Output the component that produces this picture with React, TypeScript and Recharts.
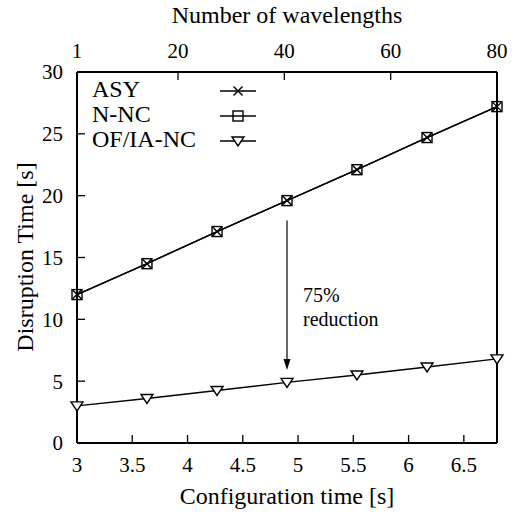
import React from 'react';
import { Line, LineChart, ReferenceLine, XAxis, YAxis } from 'recharts';

// configuration time [s] for each measured point
const configTime = [3, 3.633, 4.267, 4.9, 5.533, 6.167, 6.8];
// number of wavelengths for the same points (top axis)
const wavelengths = [1, 14, 27, 40, 54, 67, 80];
// disruption time [s]
const asyValues = [12.0, 14.5, 17.1, 19.6, 22.1, 24.7, 27.2];
const nncValues = [12.0, 14.5, 17.1, 19.6, 22.1, 24.7, 27.2];
const ofiaValues = [3.0, 3.6, 4.25, 4.9, 5.5, 6.15, 6.8];

const xTicks = [3, 3.5, 4, 4.5, 5, 5.5, 6, 6.5];
const topTicks = [1, 20, 40, 60, 80];
const yTicks = [0, 5, 10, 15, 20, 25, 30];

const arrowFrom = { x: 4.9, y: 18.0 };
const arrowTo = { x: 4.9, y: 5.9 };

const data = configTime.map((t, i) => ({
  t,
  wl: wavelengths[i],
  asy: asyValues[i],
  nnc: nncValues[i],
  ofia: ofiaValues[i],
}));

const FONT = 'Liberation Serif, Times New Roman, serif';

const Cross = ({ cx, cy }: { cx: number; cy: number }) => (
  <g stroke="#000" strokeWidth={1.4} fill="none">
    <line x1={cx - 4.5} y1={cy - 4.5} x2={cx + 4.5} y2={cy + 4.5} />
    <line x1={cx - 4.5} y1={cy + 4.5} x2={cx + 4.5} y2={cy - 4.5} />
  </g>
);

const Square = ({ cx, cy }: { cx: number; cy: number }) => (
  <rect x={cx - 5} y={cy - 5} width={10} height={10} stroke="#000" strokeWidth={1.4} fill="none" />
);

const TriDown = ({ cx, cy }: { cx: number; cy: number }) => (
  <polygon
    points={`${cx - 6},${cy - 4} ${cx + 6},${cy - 4} ${cx},${cy + 5}`}
    stroke="#000"
    strokeWidth={1.4}
    fill="#fff"
  />
);

const Arrow = (p: any) => {
  const { x1, y1, x2, y2 } = p;
  return (
    <g>
      <line x1={x1} y1={y1} x2={x2} y2={y2 - 9} stroke="#000" strokeWidth={1.2} />
      <polygon points={`${x2 - 3.5},${y2 - 11} ${x2 + 3.5},${y2 - 11} ${x2},${y2}`} fill="#000" />
    </g>
  );
};

const legendRows = [
  { name: 'ASY', Mark: Cross },
  { name: 'N-NC', Mark: Square },
  { name: 'OF/IA-NC', Mark: TriDown },
];

const axisLine = { stroke: '#000', strokeWidth: 2 };
const tickLine = { stroke: '#000', strokeWidth: 1.3 };
const tickStyle = { fill: '#000', fontSize: 21, fontFamily: FONT };

export default function App() {
  return (
    <div
      style={{
        position: 'absolute',
        left: 0,
        top: 0,
        width: 531,
        height: 514,
        background: '#fff',
        fontFamily: FONT,
      }}
    >
      <LineChart
        width={531}
        height={514}
        data={data}
        margin={{ top: 42, right: 30, bottom: 41, left: 37 }}
      >
        <XAxis
          dataKey="t"
          type="number"
          domain={[3, 6.8]}
          ticks={xTicks}
          interval={0}
          height={30}
          axisLine={axisLine}
          tickLine={tickLine}
          tickSize={-8}
          tickMargin={22}
          tick={tickStyle}
        />
        <XAxis
          xAxisId="top"
          dataKey="wl"
          orientation="top"
          type="number"
          domain={[1, 80]}
          ticks={topTicks}
          interval={0}
          height={30}
          axisLine={axisLine}
          tickLine={tickLine}
          tickSize={-8}
          tickMargin={22}
          tick={tickStyle}
        />
        <YAxis
          domain={[0, 30]}
          ticks={yTicks}
          interval={0}
          width={40}
          axisLine={axisLine}
          tickLine={tickLine}
          tickSize={-8}
          tickMargin={22}
          tick={tickStyle}
        />
        <YAxis
          yAxisId="right"
          orientation="right"
          domain={[0, 30]}
          ticks={yTicks}
          interval={0}
          width={4}
          axisLine={axisLine}
          tickLine={tickLine}
          tickSize={-8}
          tickFormatter={() => ''}
        />
        <ReferenceLine segment={[arrowFrom, arrowTo]} shape={Arrow} />
        <Line
          dataKey="ofia"
          stroke="#000"
          strokeWidth={1.4}
          isAnimationActive={false}
          dot={(p: any) => <TriDown key={`o${p.index}`} cx={p.cx} cy={p.cy} />}
        />
        <Line
          dataKey="nnc"
          stroke="#000"
          strokeWidth={1.4}
          isAnimationActive={false}
          dot={(p: any) => <Square key={`n${p.index}`} cx={p.cx} cy={p.cy} />}
        />
        <Line
          dataKey="asy"
          stroke="#000"
          strokeWidth={1.4}
          isAnimationActive={false}
          dot={(p: any) => <Cross key={`a${p.index}`} cx={p.cx} cy={p.cy} />}
        />
      </LineChart>
      <svg
        width={531}
        height={514}
        style={{ position: 'absolute', left: 0, top: 0, pointerEvents: 'none', fontFamily: FONT }}
      >
        <text x={287} y={23} fontSize={24} textAnchor="middle">Number of wavelengths</text>
        <text x={287} y={504} fontSize={24} textAnchor="middle">Configuration time [s]</text>
        <text x={33} y={257} fontSize={24} textAnchor="middle" transform="rotate(-90 33 257)">
          Disruption Time [s]
        </text>
        <text x={303} y={302} fontSize={20}>75%</text>
        <text x={303} y={326} fontSize={20}>reduction</text>
        {legendRows.map(({ name, Mark }, i) => (
          <g key={name}>
            <text x={92} y={97 + i * 25} fontSize={24}>{name}</text>
            <line x1={220} y1={91 + i * 25} x2={256} y2={91 + i * 25} stroke="#000" strokeWidth={1.4} />
            <Mark cx={238} cy={91 + i * 25} />
          </g>
        ))}
      </svg>
    </div>
  );
}
